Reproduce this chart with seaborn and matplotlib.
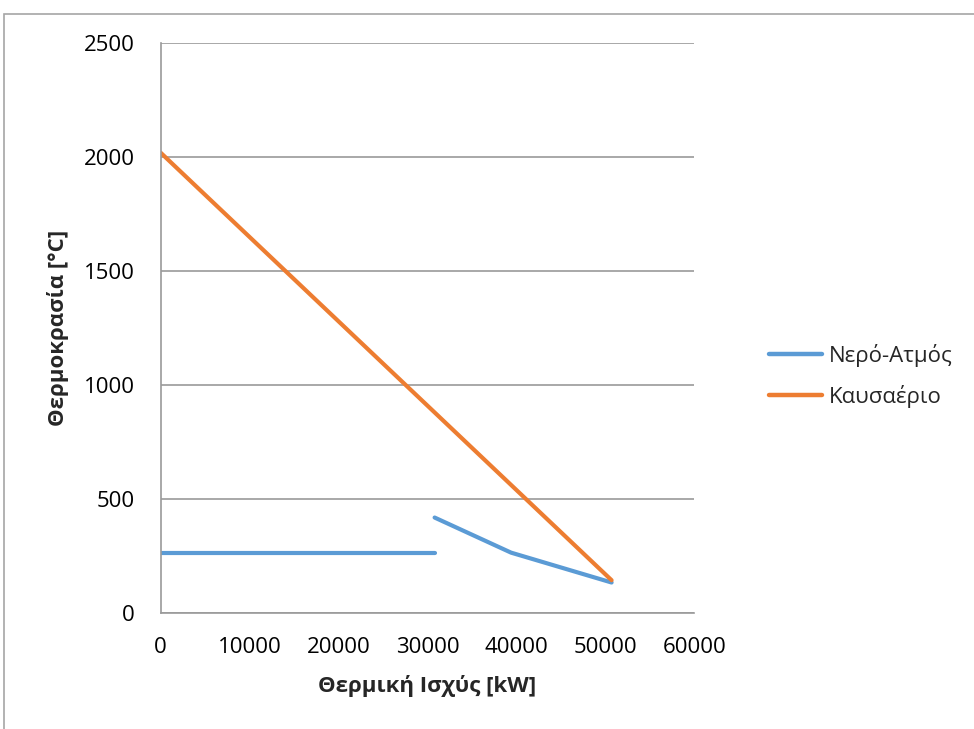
import matplotlib
matplotlib.use("Agg")
import matplotlib.pyplot as plt
from matplotlib.patches import Rectangle
import pandas as pd
import seaborn as sns

# Heat exchange temperature profile (kW vs °C)
water_seg1_x = [0, 30800]
water_seg1_y = [266, 266]
water_seg2_x = [30800, 39400, 50700]
water_seg2_y = [420, 266, 135]
gas_x = [0, 50700]
gas_y = [2020, 145]

series_names = ["Νερό-Ατμός", "Καυσαέριο"]
colors = ["#5B9BD5", "#ED7D31"]

x_ticks = [0, 10000, 20000, 30000, 40000, 50000, 60000]
y_ticks = [0, 500, 1000, 1500, 2000, 2500]

rows = []
for x, y in zip(water_seg1_x, water_seg1_y):
    rows.append((series_names[0], "w1", x, y))
for x, y in zip(water_seg2_x, water_seg2_y):
    rows.append((series_names[0], "w2", x, y))
for x, y in zip(gas_x, gas_y):
    rows.append((series_names[1], "g1", x, y))
df = pd.DataFrame(rows, columns=["series", "segment", "power", "temp"])

sns.set_theme(style="white")
plt.rcParams["font.family"] = ["Open Sans", "DejaVu Sans"]

W, H = 974, 729
fig = plt.figure(figsize=(W / 100, H / 100), dpi=100)
ax = fig.add_axes([160.7 / W, 1 - 613.3 / H, (694.3 - 160.7) / W, (613.3 - 43.3) / H])

sns.lineplot(data=df, x="power", y="temp", hue="series", units="segment",
             estimator=None, sort=False, palette=colors, hue_order=series_names,
             linewidth=3, ax=ax, legend=True)

grid_col = "#9a9a9a"
ax.set_xlim(0, 60000)
ax.set_ylim(0, 2500)
ax.set_xticks(x_ticks)
ax.set_yticks(y_ticks)
ax.set_xticklabels([str(v) for v in x_ticks])
ax.set_yticklabels([str(v) for v in y_ticks])
ax.tick_params(axis="both", labelsize=16, labelcolor="#000000", color=grid_col,
               length=6, width=1.2, direction="out")
ax.tick_params(axis="x", pad=11)
ax.tick_params(axis="y", pad=12.5)
ax.yaxis.grid(True, color=grid_col, linewidth=1.2)
ax.xaxis.grid(False)
ax.set_axisbelow(True)
for side in ["top", "right"]:
    ax.spines[side].set_visible(False)
for side in ["left", "bottom"]:
    ax.spines[side].set_color(grid_col)
    ax.spines[side].set_linewidth(1.2)

ax.set_xlabel("Θερμική Ισχύς [kW]", fontsize=16, fontweight="bold")
ax.set_ylabel("Θερμοκρασία [°C]", fontsize=16, fontweight="bold")
ax.xaxis.label.set_va("center")
ax.yaxis.label.set_va("center")
ax.xaxis.set_label_coords(0.5, (613.3 - 686) / 570)
ax.yaxis.set_label_coords((58 - 160.7) / 533.6, 0.5)

leg = ax.legend(loc="center left", bbox_to_anchor=(769 / W, 1 - 376 / H),
                bbox_transform=fig.transFigure, frameon=False,
                fontsize=16, handlelength=2.4, handletextpad=0.3,
                labelspacing=0.8, borderpad=0, borderaxespad=0)
for line in leg.get_lines():
    line.set_linewidth(3.2)

# chart frame
fig.patches.append(Rectangle((4 / W, -0.1), 1.2, 1 - 14 / H + 0.1,
                             transform=fig.transFigure, fill=False,
                             edgecolor="#a6a6a6", linewidth=1.2))

fig.savefig("out.png", dpi=100)
